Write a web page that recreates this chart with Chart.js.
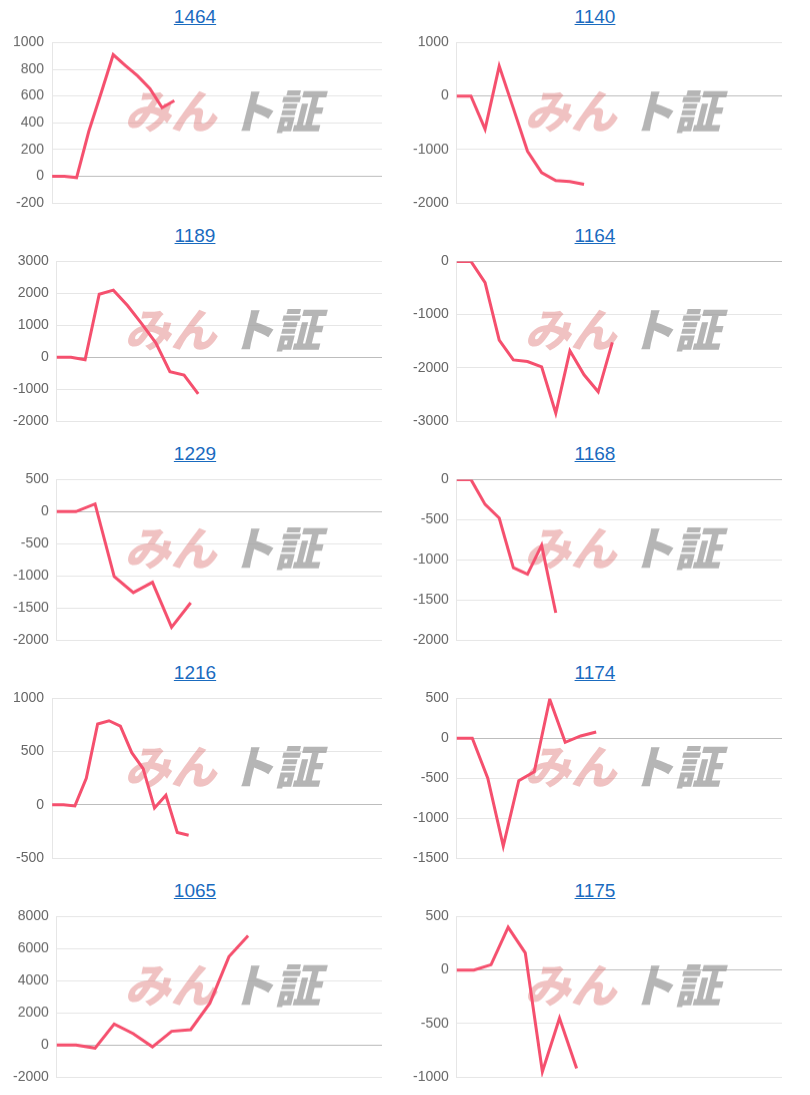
<!DOCTYPE html>
<html><head><meta charset="utf-8">
<script src="https://cdn.jsdelivr.net/npm/chart.js@4"></script>
<style>
body{margin:0;background:#fff;font-family:"Liberation Sans",Arial,sans-serif;}
#grid{display:grid;grid-template-columns:390px 390px;column-gap:10px;width:790px;}
.block{height:218.5px;}
.t{height:26px;text-align:center;font-size:19px;line-height:34px;}
.t a{color:#1a6bbf;text-decoration:underline;}
.c{position:relative;height:192.5px;width:390px;}
</style></head><body>
<div id="grid"></div>
<script>
const titles = ["1464","1140","1189","1164","1229","1168","1216","1174","1065","1175"];
const labelCounts = [28,24,24,24,18,24,30,22,18,20];
const s1464 = [0,0,-10,336,620,909,828,750,656,513,565];
const s1140 = [0,0,-620,560,-230,-1030,-1430,-1580,-1600,-1650];
const s1189 = [0,0,-80,1970,2100,1620,1050,450,-450,-560,-1150];
const s1164 = [0,0,-400,-1480,-1850,-1880,-1980,-2850,-1680,-2130,-2450,-1520];
const s1229 = [0,0,120,-1010,-1260,-1100,-1800,-1420];
const s1168 = [0,0,-310,-480,-1100,-1180,-820,-1660];
const s1216 = [0,0,-10,250,760,790,740,490,340,-30,90,-260,-285];
const s1174 = [0,0,-500,-1350,-530,-420,490,-50,30,80];
const s1065 = [0,0,-200,1300,700,-120,850,950,2600,5500,6800];
const s1175 = [0,0,50,400,160,-950,-450,-920];
const series = [s1464,s1140,s1189,s1164,s1229,s1168,s1216,s1174,s1065,s1175];
const yMin = [-200,-2000,-2000,-3000,-2000,-2000,-500,-1500,-2000,-1000];
const yMax = [1000,1000,3000,0,500,0,1000,500,8000,500];
const yStep = [200,1000,1000,1000,500,500,500,500,2000,500];

const watermark = {
  id:'wm',
  beforeDatasetsDraw(chart){
    const ctx = chart.ctx;
    ctx.save();
    ctx.font = '900 46px "Noto Sans CJK JP"';
    ctx.textBaseline = 'middle';
    ctx.setTransform(1,0,-0.25,1,0,0);
    ctx.fillStyle = 'rgba(222,120,120,0.45)';
    ctx.fillText('みん', 150, 85);
    ctx.fillStyle = 'rgba(150,150,150,0.7)';
    ctx.fillText('ト証', 254, 85);
    ctx.restore();
  }
};

const grid = document.getElementById('grid');
titles.forEach((t,i)=>{
  const b = document.createElement('div'); b.className='block';
  b.innerHTML = '<div class="t"><a href="#">'+t+'</a></div><div class="c"><canvas></canvas></div>';
  grid.appendChild(b);
  const labels = Array.from({length:labelCounts[i]},(_,k)=>String(k+1));
  new Chart(b.querySelector('canvas'),{
    type:'line',
    data:{labels, datasets:[{data:series[i],borderColor:'#f5506e',borderWidth:3,pointRadius:0,tension:0,fill:false}]},
    options:{
      responsive:true,maintainAspectRatio:false,animation:false,
      layout:{padding:{top:0,right:8,bottom:2,left:5}},
      plugins:{legend:{display:false},tooltip:{enabled:false}},
      scales:{
        x:{display:true,ticks:{display:false},grid:{display:false,drawTicks:false},border:{display:false}},
        y:{min:yMin[i],max:yMax[i],ticks:{stepSize:yStep[i],color:'#666',font:{size:14,family:'"Liberation Sans",Arial'},padding:8,callback:v=>String(v)},
           grid:{drawTicks:false,color:c=>c.tick&&c.tick.value===0?'#bdbdbd':'#e6e6e6'},
           border:{color:'#e6e6e6'}}
      }
    },
    plugins:[watermark]
  });
});
</script>
</body></html>
